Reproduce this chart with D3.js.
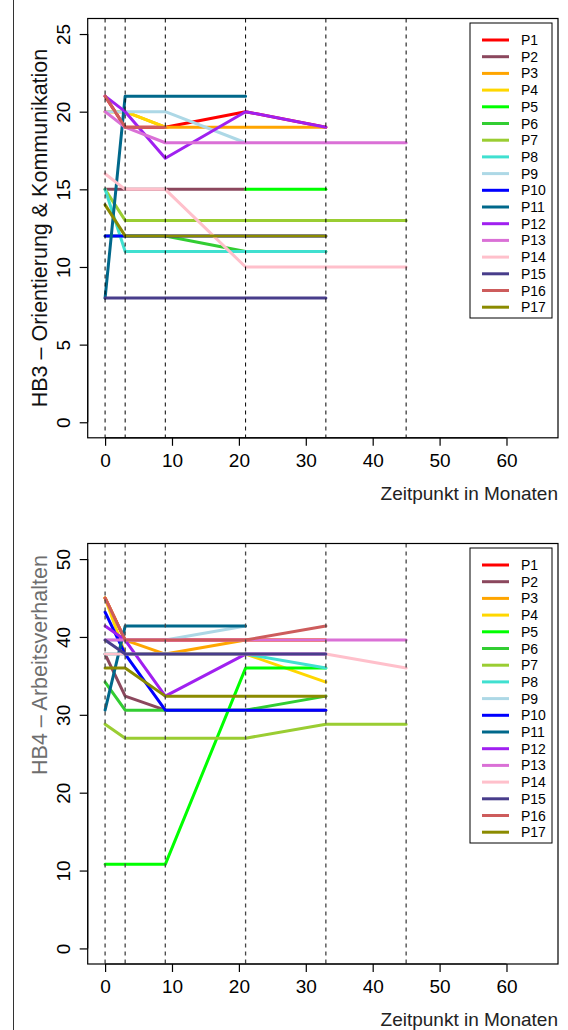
<!DOCTYPE html>
<html>
<head>
<meta charset="utf-8">
<script src="https://cdn.jsdelivr.net/npm/d3@7"></script>
<style>
  body { margin: 0; background: #fff; }
  svg { display: block; font-family: "Liberation Sans", Arial, sans-serif; }
</style>
</head>
<body>
<div id="chart"></div>
<script>
// Time points (months) where the assessments took place
const timepoints = [0, 3, 9, 21, 33, 45];
const xTicks = [0, 10, 20, 30, 40, 50, 60];

const participants = ["P1", "P2", "P3", "P4", "P5", "P6", "P7", "P8", "P9",
    "P10", "P11", "P12", "P13", "P14", "P15", "P16", "P17"];

const lineColors = ["#FF0000", "#8B475D", "#FFA500", "#FFD700", "#00FF00", "#32CD32",
    "#9ACD32", "#40E0D0", "#ADD8E6", "#0000FF", "#00688B", "#A020F0", "#DA70D6",
    "#FFC0CB", "#483D8B", "#CD5C5C", "#8B8B00"];

// HB3 - Orientierung & Kommunikation (one row per participant, null = missing)
const hb3Values = [
    [21, 19, 19, 20, 19],
    [15, 15, 15, 15],
    [20, 20, 19, 19, 19],
    [20, 20, 19],
    [null, null, null, 15, 15],
    [12, 12, 12, 11, 11],
    [15, 13, 13, 13, 13, 13],
    [15, 11, 11, 11, 11],
    [20, 20, 20, 18],
    [12, 12, 12, 12, 12],
    [8, 21, 21, 21],
    [21, 20, 17, 20, 19],
    [20, 19, 18, 18, 18, 18],
    [16, 15, 15, 10, 10, 10],
    [8, 8, 8, 8, 8],
    [21, 19, 19],
    [14, 12, 12, 12, 12]
];
const hb3Ticks = [0, 5, 10, 15, 20, 25];

// HB4 - Arbeitsverhalten
const hb4Values = [
    [45, 39.6, 39.6, 39.6, 39.6],
    [37.8, 32.4, 30.6, 30.6, 30.6],
    [45, 39.6, 37.8, 39.6, 39.6],
    [45, 37.8, 37.8, 37.8, 34.2],
    [10.8, 10.8, 10.8, 36, 36],
    [34.2, 30.6, 30.6, 30.6, 32.4],
    [28.8, 27, 27, 27, 28.8, 28.8],
    [37.8, 37.8, 37.8, 37.8, 36],
    [39.6, 39.6, 39.6, 41.4],
    [43.2, 37.8, 30.6, 30.6, 30.6],
    [30.6, 41.4, 41.4, 41.4],
    [41.4, 39.6, 32.4, 37.8, 37.8],
    [39.6, 39.6, 39.6, 39.6, 39.6, 39.6],
    [37.8, 37.8, 37.8, 37.8, 37.8, 36],
    [39.6, 37.8, 37.8, 37.8, 37.8],
    [45, 39.6, 39.6, 39.6, 41.4],
    [36, 36, 32.4, 32.4, 32.4]
];
const hb4Ticks = [0, 10, 20, 30, 40, 50];

const WIDTH = 568, HEIGHT = 1030;
const boxLeft = 87.7, boxRight = 558;

const svg = d3.select("#chart").append("svg")
    .attr("width", WIDTH)
    .attr("height", HEIGHT);

// outer frame line on the left
svg.append("line")
    .attr("x1", 13.5).attr("x2", 13.5)
    .attr("y1", 0).attr("y2", HEIGHT)
    .attr("stroke", "#333").attr("stroke-width", 1);

let x = d3.scaleLinear()
    .domain([-2.6, 67.7])
    .range([boxLeft, boxRight]);

function drawPanel(opts) {
    let g = svg.append("g");
    let y = d3.scaleLinear()
        .domain(opts.ylim)
        .range([opts.bottom, opts.top]);

    // series
    let line = d3.line()
        .defined(function(d) { return d.v !== null; })
        .x(function(d) { return x(d.t); })
        .y(function(d) { return y(d.v); });

    opts.values.forEach(function(row, i) {
        let pts = row.map(function(v, j) { return {t: timepoints[j], v: v}; });
        g.append("path")
            .datum(pts)
            .attr("d", line)
            .attr("fill", "none")
            .attr("stroke", lineColors[i])
            .attr("stroke-width", 3)
            .attr("stroke-linejoin", "round")
            .attr("stroke-linecap", "round");
    });

    // dashed lines at the assessment times
    g.selectAll(".vline")
        .data(timepoints)
        .enter()
        .append("line")
        .attr("x1", function(d) { return x(d); })
        .attr("x2", function(d) { return x(d); })
        .attr("y1", opts.top)
        .attr("y2", opts.bottom)
        .attr("stroke", opts.dashColor)
        .attr("stroke-width", opts.dashWidth)
        .attr("stroke-dasharray", "4,4");

    // box
    g.append("rect")
        .attr("x", boxLeft).attr("y", opts.top)
        .attr("width", boxRight - boxLeft)
        .attr("height", opts.bottom - opts.top)
        .attr("fill", "none")
        .attr("stroke", "#000")
        .attr("stroke-width", 1.2);

    // X axis
    let xAxis = g.append("g")
        .attr("transform", "translate(0," + opts.bottom + ")")
        .call(d3.axisBottom(x).tickValues(xTicks).tickSize(8).tickPadding(8).tickSizeOuter(0));
    xAxis.select(".domain").remove();
    xAxis.selectAll("line").attr("stroke", "#000").attr("stroke-width", 1.2);
    xAxis.selectAll("text").attr("font-size", 19).attr("fill", "#000")
        .attr("font-family", "Liberation Sans, Arial, sans-serif");

    g.append("line")
        .attr("x1", x(0)).attr("x2", x(60))
        .attr("y1", opts.bottom).attr("y2", opts.bottom)
        .attr("stroke", "#000").attr("stroke-width", 1.2);

    g.append("text")
        .attr("x", boxRight)
        .attr("y", opts.bottom + 62)
        .attr("text-anchor", "end")
        .attr("font-size", 19)
        .attr("fill", "#222")
        .text("Zeitpunkt in Monaten");

    // Y axis
    let yAxis = g.append("g")
        .attr("transform", "translate(" + boxLeft + ",0)")
        .call(d3.axisLeft(y).tickValues(opts.yTicks).tickSize(8).tickSizeOuter(0));
    yAxis.select(".domain").remove();
    yAxis.selectAll("line").attr("stroke", "#000").attr("stroke-width", 1.2);
    yAxis.selectAll("text")
        .attr("font-size", 19).attr("fill", "#000")
        .attr("font-family", "Liberation Sans, Arial, sans-serif")
        .attr("x", null).attr("dy", null)
        .attr("text-anchor", "middle")
        .attr("transform", "translate(-18,0) rotate(-90)");

    g.append("line")
        .attr("x1", boxLeft).attr("x2", boxLeft)
        .attr("y1", y(opts.yTicks[0])).attr("y2", y(opts.yTicks[opts.yTicks.length - 1]))
        .attr("stroke", "#000").attr("stroke-width", 1.2);

    g.append("text")
        .attr("transform", "translate(47," + opts.titleY + ") rotate(-90)")
        .attr("text-anchor", "middle")
        .attr("font-size", opts.titleSize)
        .attr("fill", opts.titleColor)
        .text(opts.title);

    // legend
    let lg = g.append("g")
        .attr("transform", "translate(470," + (opts.top + 4.5) + ")");
    lg.append("rect")
        .attr("width", 82).attr("height", 295)
        .attr("fill", "#fff")
        .attr("stroke", "#000")
        .attr("stroke-width", 1);
    let rows = lg.selectAll(".row")
        .data(participants)
        .enter()
        .append("g")
        .attr("transform", function(d, i) { return "translate(0," + (17 + i * 16.7) + ")"; });
    rows.append("line")
        .attr("x1", 12).attr("x2", 39)
        .attr("stroke", function(d, i) { return lineColors[i]; })
        .attr("stroke-width", 3);
    rows.append("text")
        .attr("x", 51)
        .attr("dy", "0.36em")
        .attr("font-size", 14)
        .attr("fill", "#000")
        .text(function(d) { return d; });
}

drawPanel({
    values: hb3Values,
    ylim: [-1, 26],
    yTicks: hb3Ticks,
    top: 18.5,
    bottom: 437.8,
    title: "HB3 \u2013 Orientierung & Kommunikation",
    titleY: 228,
    titleSize: 21.5,
    titleColor: "#111",
    dashColor: "#000",
    dashWidth: 1
});

drawPanel({
    values: hb4Values,
    ylim: [-2, 52],
    yTicks: hb4Ticks,
    top: 543.5,
    bottom: 964,
    title: "HB4 \u2013 Arbeitsverhalten",
    titleY: 665,
    titleSize: 21.5,
    titleColor: "#6e6e6e",
    dashColor: "#444",
    dashWidth: 1.3
});
</script>
</body>
</html>
